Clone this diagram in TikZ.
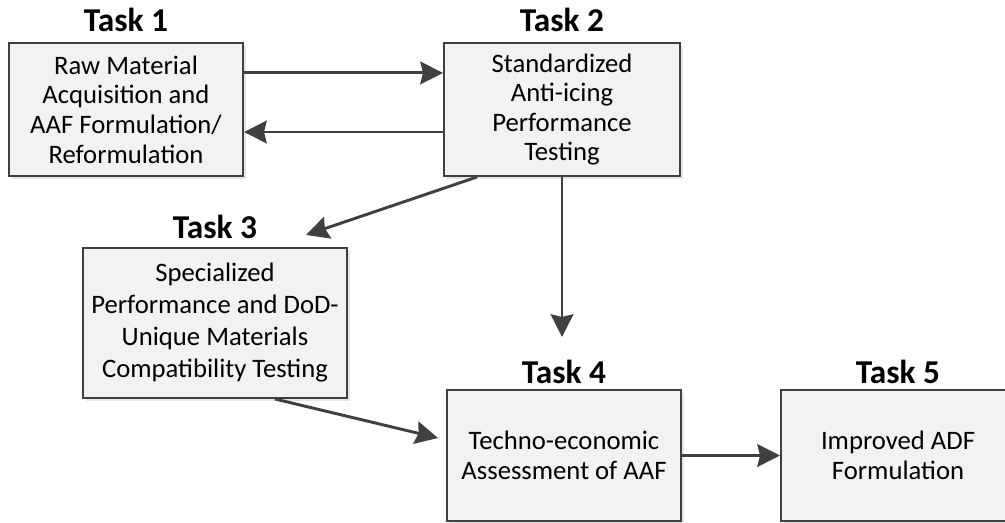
\documentclass[tikz,border=0pt]{standalone}
\usepackage{fontspec}
\setmainfont{Carlito}
\usetikzlibrary{arrows.meta,shadows}
\definecolor{edge}{HTML}{404040}
\definecolor{boxfill}{HTML}{F2F2F0}
\begin{document}
\begin{tikzpicture}[x=0.75pt,y=-0.75pt,
  taskbox/.style={draw=edge,line width=1.5pt,fill=boxfill,inner sep=0pt,
    align=center,font=\fontsize{20}{22.2}\selectfont,
    drop shadow={shadow xshift=2pt,shadow yshift=-2pt,fill=black!10,opacity=1}},
  tasktitle/.style={anchor=base,font=\fontsize{25}{28}\selectfont\bfseries,inner sep=0pt},
  arr/.style={draw=edge,line width=2.2pt,-{Stealth[length=17pt,width=17pt,inset=2pt]}}]
\useasboundingbox (0,0) rectangle (1005,523);
% boxes
\node[taskbox,minimum width=175.5pt,minimum height=99.75pt] (b1) at (126,109.5)
  {Raw Material\\Acquisition and\\AAF Formulation/\\Reformulation};
\node[taskbox,minimum width=177pt,minimum height=99.75pt] (b2) at (562,109.5)
  {Standardized\\Anti-icing\\Performance\\Testing};
\node[taskbox,minimum width=198pt,minimum height=112.5pt,font=\fontsize{20}{24}\selectfont] (b3) at (215,323)
  {Specialized\\Performance and DoD-\\Unique Materials\\Compatibility Testing};
\node[taskbox,minimum width=175.5pt,minimum height=98.25pt] (b4) at (564,455.5)
  {Techno-economic\\Assessment of AAF};
\node[taskbox,minimum width=175.5pt,minimum height=98.25pt] (b5) at (898,455.5)
  {Improved ADF\\Formulation};
% titles
\node[tasktitle] (t1) at (126,32) {Task 1};
\node[tasktitle] (t2) at (562,32) {Task 2};
\node[tasktitle] (t3) at (215,239) {Task 3};
\node[tasktitle] (t4) at (564,383) {Task 4};
\node[tasktitle] (t5) at (898,383) {Task 5};
% free ends
\coordinate (e23) at (306,235);
\coordinate (e24) at (562,337);
\coordinate (e34) at (438,438);
% connectors
\draw[arr] ([yshift=27.4pt]b1.east) -- ([yshift=27.4pt]b2.west);
\draw[arr] ([yshift=-16.9pt]b2.west) -- ([yshift=-16.9pt]b1.east);
\draw[arr] ([xshift=-63.75pt]b2.south) -- (e23);
\draw[arr] (b2.south) -- (e24);
\draw[arr] ([xshift=45pt]b3.south) -- (e34);
\draw[arr] (b4.east) -- (b5.west);
\end{tikzpicture}
\end{document}
